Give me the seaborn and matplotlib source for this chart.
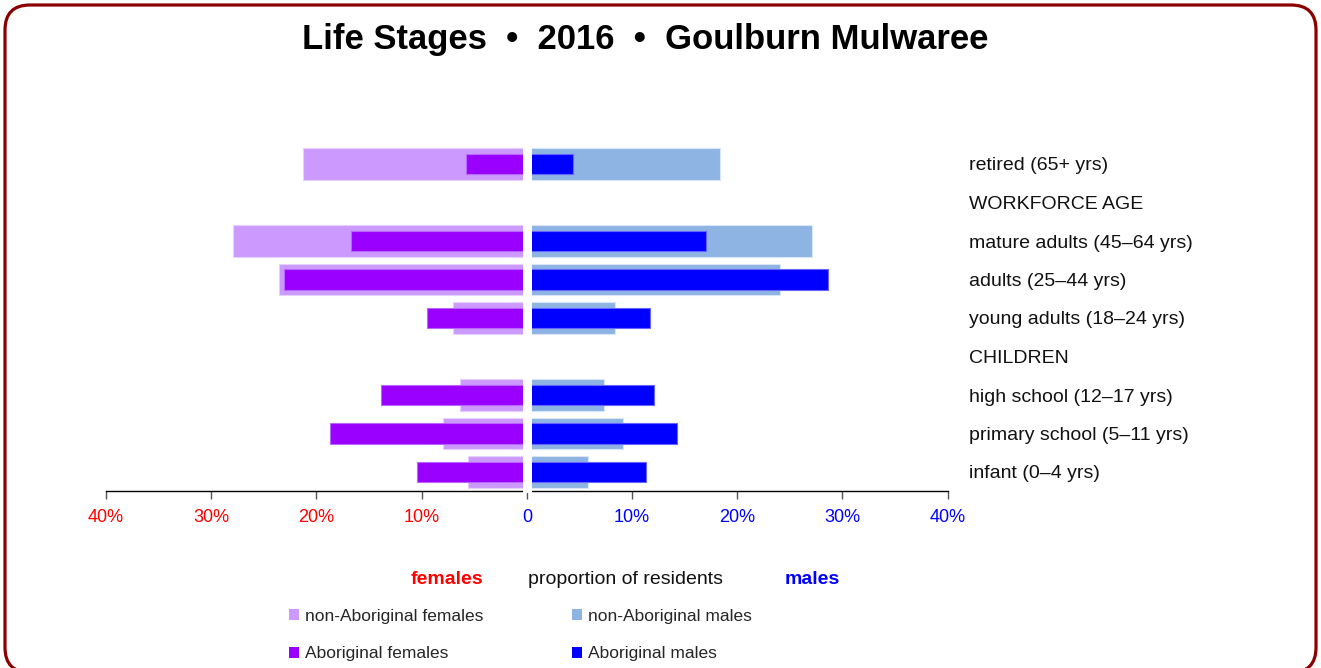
import numpy as np
import pandas as pd
import matplotlib
matplotlib.use("Agg")
import matplotlib.pyplot as plt
from matplotlib.patches import Patch, FancyBboxPatch
import seaborn as sns

# ---------------- data ----------------
row_labels = ["retired (65+ yrs)", "WORKFORCE AGE", "mature adults (45–64 yrs)",
              "adults (25–44 yrs)", "young adults (18–24 yrs)", "CHILDREN",
              "high school (12–17 yrs)", "primary school (5–11 yrs)", "infant (0–4 yrs)"]
stages = ["retired (65+ yrs)", "mature adults (45–64 yrs)", "adults (25–44 yrs)",
          "young adults (18–24 yrs)", "high school (12–17 yrs)",
          "primary school (5–11 yrs)", "infant (0–4 yrs)"]
nonab_females = [21.3, 27.9, 23.6, 7.0, 6.4, 8.0, 5.6]
ab_females = [5.8, 16.7, 23.1, 9.5, 13.9, 18.7, 10.4]
nonab_males = [18.4, 27.1, 24.1, 8.4, 7.3, 9.1, 5.8]
ab_males = [4.4, 17.0, 28.6, 11.7, 12.1, 14.3, 11.3]
tick_values = [-40, -30, -20, -10, 0, 10, 20, 30, 40]
tick_labels = ["40%", "30%", "20%", "10%", "0", "10%", "20%", "30%", "40%"]
series_names = ["non-Aboriginal females", "Aboriginal females",
                "non-Aboriginal males", "Aboriginal males"]

# ---------------- style ----------------
sns.set_theme(style="white")
plt.rcParams["font.family"] = ["Liberation Sans", "DejaVu Sans"]

C_NAF = "#CC99FF"
C_AF = "#9900FF"
C_NAM = "#8EB4E3"
C_AM = "#0000FF"

fig = plt.figure(figsize=(13.21, 6.68), dpi=100)
ax = fig.add_axes([106 / 1321, 1 - 491.25 / 668, (947.7 - 106) / 1321, (491.25 - 144.75) / 668])

df_naf = pd.DataFrame({"stage": stages, "v": -np.array(nonab_females)})
df_af = pd.DataFrame({"stage": stages, "v": -np.array(ab_females)})
df_nam = pd.DataFrame({"stage": stages, "v": np.array(nonab_males)})
df_am = pd.DataFrame({"stage": stages, "v": np.array(ab_males)})

common = dict(x="v", y="stage", order=row_labels, orient="h", errorbar=None,
              saturation=1, ax=ax)
sns.barplot(data=df_naf, color=C_NAF, width=0.83, linewidth=0.8, edgecolor="#E6D0FF", zorder=2, **common)
sns.barplot(data=df_nam, color=C_NAM, width=0.83, linewidth=0.8, edgecolor="#D8E6F7", zorder=2, **common)
sns.barplot(data=df_af, color=C_AF, width=0.52, linewidth=0.8, edgecolor="#B866FF", zorder=3, **common)
sns.barplot(data=df_am, color=C_AM, width=0.52, linewidth=0.8, edgecolor="#6666FF", zorder=3, **common)

# central gap between the two halves
ax.axvspan(-0.35, 0.5, ymin=-0.006, ymax=1, facecolor="white", edgecolor="none",
           zorder=6, clip_on=False)

ax.set_xlim(-40, 40)
ax.set_ylim(8.5, -0.5)
ax.set_xlabel("")
ax.set_ylabel("")
ax.set_xticks(tick_values)
ax.set_xticklabels(tick_labels)
for lab, v in zip(ax.get_xticklabels(), tick_values):
    lab.set_color("#FF0000" if v < 0 else "#0000FF")
ax.tick_params(axis="x", bottom=True, length=6, width=1, color="#555555",
               direction="out", labelsize=13, pad=7)

ax.yaxis.tick_right()
ax.tick_params(axis="y", left=False, right=False, length=0, pad=15,
               labelsize=14, labelcolor="#111111")

for s in ["top", "left", "right"]:
    ax.spines[s].set_visible(False)
ax.spines["bottom"].set_color("#000000")
ax.spines["bottom"].set_linewidth(1.0)
ax.spines["bottom"].set_zorder(5)

# ---------------- titles & notes ----------------
fig.text(645 / 1321, 1 - 40 / 668, "Life Stages  •  2016  •  Goulburn Mulwaree",
         ha="center", va="center", fontsize=24.9, fontweight="bold", color="#000000")

yrow = 1 - 579 / 668
fig.text(447 / 1321, yrow, "females", ha="center", va="center", fontsize=14,
         fontweight="bold", color="#FF0000")
fig.text(626 / 1321, yrow, "proportion of residents", ha="center", va="center",
         fontsize=14, color="#111111")
fig.text(812 / 1321, yrow, "males", ha="center", va="center", fontsize=14,
         fontweight="bold", color="#0000FF")

# ---------------- legend ----------------
leg_kw = dict(loc="center left", frameon=False, fontsize=12.5, handlelength=0.6,
              handleheight=0.6, handletextpad=0.3, labelspacing=1.32,
              borderpad=0, borderaxespad=0)
fig.legend(handles=[Patch(facecolor=C_NAF, edgecolor="none"),
                    Patch(facecolor=C_AF, edgecolor="none")],
           labels=series_names[:2], bbox_to_anchor=(289 / 1321, 1 - 635 / 668), **leg_kw)
fig.legend(handles=[Patch(facecolor=C_NAM, edgecolor="none"),
                    Patch(facecolor=C_AM, edgecolor="none")],
           labels=series_names[2:], bbox_to_anchor=(572 / 1321, 1 - 635 / 668), **leg_kw)

# ---------------- rounded border ----------------
border = FancyBboxPatch((0.05, -0.045), 13.11, 6.675,
                        boxstyle="round,pad=0,rounding_size=0.25",
                        transform=fig.dpi_scale_trans, facecolor="none",
                        edgecolor="#8B0000", linewidth=2.3, clip_on=False)
fig.add_artist(border)

fig.savefig("out.png", dpi=100)
